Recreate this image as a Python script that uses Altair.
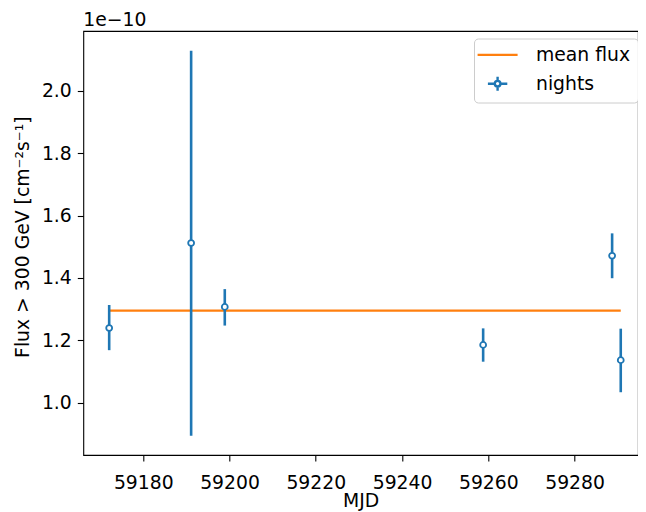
import altair as alt
import pandas as pd

# ---- data (flux in units of 1e-10 cm^-2 s^-1) ----
mjd = [59172.1, 59191.1, 59198.9, 59258.8, 59288.7, 59290.7]
flux = [1.239, 1.512, 1.307, 1.185, 1.471, 1.136]
flux_lo = [1.168, 0.893, 1.247, 1.131, 1.399, 1.033]
flux_hi = [1.313, 2.129, 1.364, 1.238, 1.543, 1.237]
mean_flux = 1.295

series_names = ["mean flux", "nights"]
series_colors = ["#ff7f0e", "#1f77b4"]
x_ticks = [59180, 59200, 59220, 59240, 59260, 59280]
y_ticks = [1.0, 1.2, 1.4, 1.6, 1.8, 2.0]
x_domain = [59166.1, 59294.7]
y_domain = [0.8315, 2.1926]

FONT = "DejaVu Sans"
FS = 18.8

nights_df = pd.DataFrame({
    "mjd": mjd, "flux": flux, "lo": flux_lo, "hi": flux_hi,
    "series": ["nights"] * len(mjd),
})
mean_df = pd.DataFrame({
    "mjd": [min(mjd), max(mjd)],
    "flux": [mean_flux, mean_flux],
    "series": ["mean flux", "mean flux"],
})

line_path = "M-4,0H4"
nights_path = ("M-1.94,0H-0.56M0.56,0H1.94M0,-1.4V-0.56M0,0.56V1.4"
               "M0.56,0A0.56,0.56,0,1,1,-0.56,0A0.56,0.56,0,1,1,0.56,0")

legend = alt.Legend(
    title=None, orient="none", legendX=390.7, legendY=7.5, padding=7,
    strokeColor="#cccccc", fillColor="rgba(255,255,255,0.8)", cornerRadius=4,
    labelFont=FONT, labelFontSize=FS, labelColor="black", labelOffset=29,
    symbolSize=100, symbolOffset=7.2, rowPadding=5.8, symbolStrokeWidth=2.4,
    symbolType=alt.ExprRef(expr="datum.value === 'mean flux' ? '" + line_path + "' : '" + nights_path + "'"),
    symbolStrokeColor=alt.ExprRef(expr="datum.value === 'mean flux' ? '#ff7f0e' : '#1f77b4'"),
    symbolFillColor="white", symbolOpacity=1,
)

color = alt.Color("series:N", scale=alt.Scale(domain=series_names, range=series_colors), legend=legend)

x = alt.X("mjd:Q", scale=alt.Scale(domain=x_domain, nice=False, zero=False),
          axis=alt.Axis(values=x_ticks, format="d", title="MJD", grid=False, domain=False,
                        tickSize=6, tickWidth=1.1, tickColor="black",
                        labelFont=FONT, labelFontSize=FS, labelColor="black", labelPadding=12,
                        titleFont=FONT, titleFontSize=FS, titleColor="black", titleFontWeight="normal",
                        titleBaseline="alphabetic", titleY=51))
y = alt.Y("flux:Q", scale=alt.Scale(domain=y_domain, nice=False, zero=False),
          axis=alt.Axis(values=y_ticks, format=".1f", title="Flux > 300 GeV [cm⁻²s⁻¹]",
                        grid=False, domain=False,
                        tickSize=6, tickWidth=1.1, tickColor="black",
                        labelFont=FONT, labelFontSize=FS, labelColor="black", labelPadding=6,
                        titleFont=FONT, titleFontSize=FS, titleColor="black", titleFontWeight="normal",
                        titleBaseline="alphabetic", titleX=-55, titleY=205.7, titleAlign="center"))

mean_line = alt.Chart(mean_df).mark_line(strokeWidth=2.3).encode(x=x, y=y, color=color)
err = alt.Chart(nights_df).mark_rule(strokeWidth=2.6).encode(x=x, y=alt.Y("lo:Q"), y2="hi:Q", color=color)
pts = alt.Chart(nights_df).mark_point(shape="circle", filled=False, fill="white", fillOpacity=1,
                                      opacity=1, size=35, strokeWidth=1.8).encode(x=x, y=y, color=color)

chart = alt.layer(mean_line, err, pts).properties(
    width=554.7, height=424,
    title=alt.TitleParams("1e−10", anchor="start", frame="group", font=FONT, fontSize=FS,
                          fontWeight="normal", color="black", offset=2, baseline="bottom", dy=20),
    padding={"left": 75.3, "top": 23, "right": 0, "bottom": 56},
    autosize=alt.AutoSizeParams(type="none"),
).configure_view(stroke="black", strokeWidth=1.1)

chart.save("out.html", embed_options={"renderer": "svg", "actions": False})
